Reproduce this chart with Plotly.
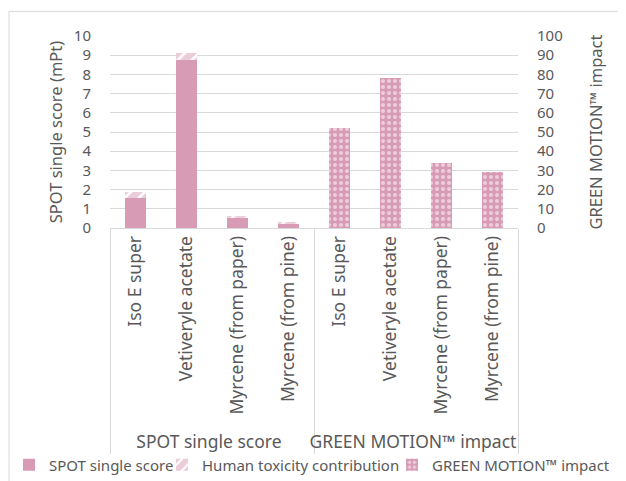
import plotly.graph_objects as go

groups = ["SPOT single score", "GREEN MOTION™ impact"]
substances = ["Iso E super", "Vetiveryle acetate", "Myrcene (from paper)", "Myrcene (from pine)"]
spot_score = [1.55, 8.75, 0.55, 0.26]
human_tox = [0.30, 0.35, 0.05, 0.04]
green_motion = [52, 78, 34, 29]

y_ticks = list(range(0, 11))
y2_ticks = list(range(0, 101, 10))

PINK = "#D89BB6"
GREY = "#595959"
GRID = "#D9D9D9"
FONT = "Noto Sans"

x_spot = [[groups[0]] * len(substances), substances]
x_gm = [[groups[1]] * len(substances), substances]

fig = go.Figure()
fig.add_trace(go.Bar(
    x=x_spot, y=spot_score, name="SPOT single score", legend="legend",
    marker=dict(color=PINK, line=dict(width=0)), width=0.4, yaxis="y"))
fig.add_trace(go.Bar(
    x=x_spot, y=human_tox, name="Human toxicity contribution", legend="legend2",
    marker=dict(color="white", line=dict(width=0),
                pattern=dict(shape="/", fgcolor=PINK, bgcolor="white", solidity=0.75, size=10)),
    width=0.4, yaxis="y"))
fig.add_trace(go.Bar(
    x=x_gm, y=green_motion, name="GREEN MOTION™ impact", legend="legend3",
    marker=dict(color=PINK, line=dict(width=0),
                pattern=dict(shape=".", fgcolor="white", bgcolor=PINK, solidity=0.35, size=6)),
    width=0.4, yaxis="y2"))

# page offset of the figure inside the browser (body margin)
OFF = 8
W, H = 626 - OFF, 481 - OFF
PL, PR, PT, PB = 110 - OFF, 518 - OFF, 35.7 - OFF, 228.3 - OFF
PW, PH = PR - PL, PB - PT


def px2x(px):
    return (px - OFF - PL) / PW


def px2y(py):
    return (PB - (py - OFF)) / PH


def legend_at(text_left):
    return dict(orientation="h", x=px2x(text_left - 40), xanchor="left",
                y=px2y(466), yanchor="middle",
                font=dict(size=15, color=GREY, family=FONT), bgcolor="rgba(0,0,0,0)",
                itemwidth=30, borderwidth=0)


fig.update_layout(
    width=W, height=H,
    margin=dict(l=PL, r=W - PR, t=PT, b=H - PB, autoexpand=False),
    paper_bgcolor="white", plot_bgcolor="white",
    barmode="stack",
    font=dict(family=FONT, color=GREY, size=16),
    showlegend=True,
    legend=legend_at(49),
    legend2=legend_at(202),
    legend3=legend_at(432),
    xaxis=dict(type="multicategory", tickangle=-90, showdividers=True, automargin=False,
               dividercolor=GRID, dividerwidth=1, showline=True, linecolor=GRID,
               tickfont=dict(size=17.5, color=GREY), showgrid=False, ticks=""),
    yaxis=dict(range=[0, 10], tickvals=y_ticks, showgrid=True, gridcolor=GRID, automargin=False,
               zeroline=False, showline=False, ticks="", ticklabelstandoff=18,
               tickfont=dict(size=15, color=GREY),
               title=dict(text="SPOT single score (mPt)", font=dict(size=16.5, color=GREY), standoff=7)),
    yaxis2=dict(range=[0, 100], tickvals=y2_ticks, overlaying="y", side="right", automargin=False,
                showgrid=False, zeroline=False, showline=False, ticks="", ticklabelstandoff=18,
                tickfont=dict(size=15, color=GREY),
                title=dict(text="GREEN MOTION™ impact", font=dict(size=16.5, color=GREY), standoff=28)),
    shapes=[dict(type="rect", xref="paper", yref="paper", x0=px2x(9), x1=1.6,
                 y0=-1.6, y1=px2y(11), line=dict(color=GRID, width=1), layer="below")],
)

fig.write_html("out.html")
